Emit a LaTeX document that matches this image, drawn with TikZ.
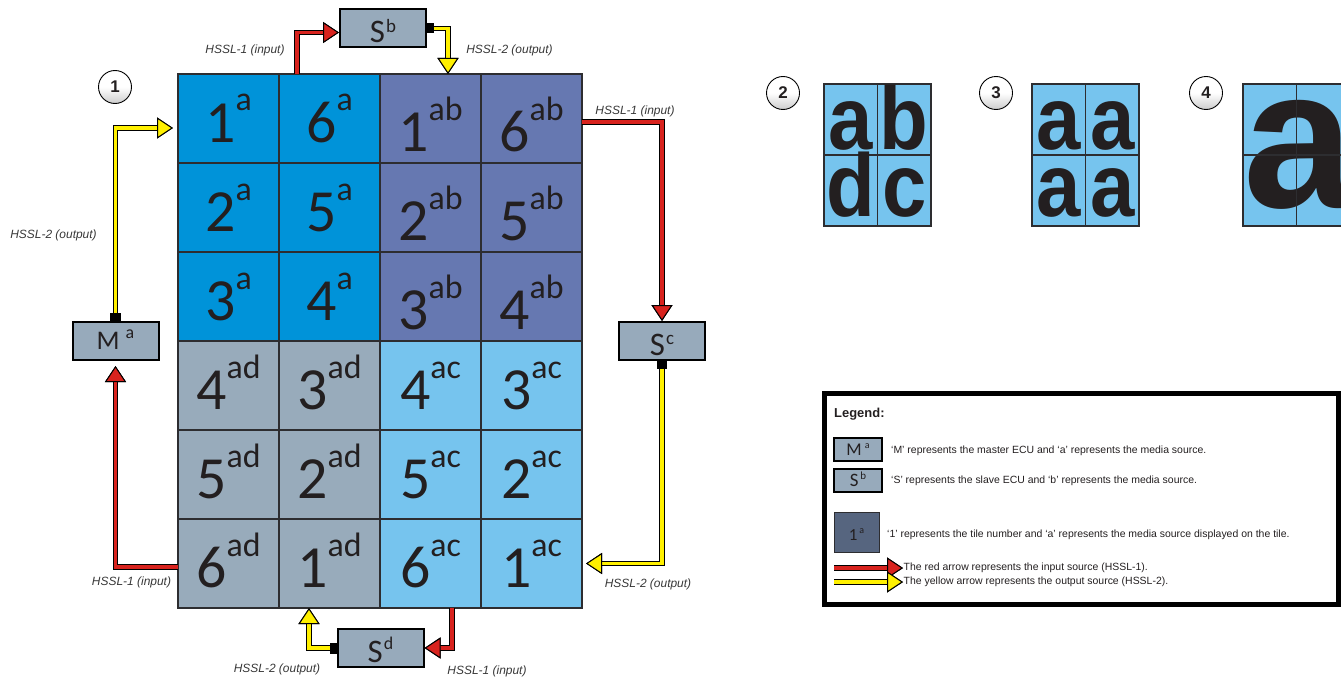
\documentclass[tikz,border=0pt]{standalone}
\usepackage{fontspec}
\setmainfont{Liberation Sans}
\newfontfamily\calfont{Carlito}
\usetikzlibrary{arrows.meta,calc}

% palette
\definecolor{tileA}{RGB}{0,147,217}
\definecolor{tileAB}{RGB}{102,120,177}
\definecolor{tileAD}{RGB}{152,171,187}
\definecolor{tileAC}{RGB}{118,196,238}
\definecolor{ecufill}{RGB}{151,170,187}
\definecolor{legtile}{RGB}{86,101,127}
\definecolor{hsred}{RGB}{216,35,30}
\definecolor{hsyellow}{RGB}{255,240,0}
\definecolor{ink}{RGB}{35,31,32}
\definecolor{gridline}{RGB}{45,45,48}
\definecolor{labelgray}{RGB}{55,55,55}

% tile number with media-source superscript
\newcommand\tiletext[2]{{\calfont\fontsize{60}{60}\selectfont #1\raisebox{31bp}{\fontsize{34}{34}\selectfont #2}}}
% ECU label: letter, superscript, size, superscript size, raise, gap
\newcommand\ecutext[6]{{\calfont\fontsize{#3}{#3}\selectfont #1\hspace{#6}\raisebox{#5}{\fontsize{#4}{#4}\selectfont #2}}}
% bold letter for the layout previews
\newcommand\bigletter[1]{\scalebox{0.93}[1.04]{#1}}

\tikzset{
  redtip/.tip={Triangle[length=16bp,width=21bp,line width=1bp,color=black,fill=hsred]},
  yellowtip/.tip={Triangle[length=16bp,width=21bp,line width=1bp,color=black,fill=hsyellow]},
  redlink/.style={draw=hsred, line width=3.6bp, -{redtip},
    preaction={draw=black, line width=5.2bp, -{redtip}}},
  yellowlink/.style={draw=hsyellow, line width=3.6bp, -{yellowtip},
    preaction={draw=black, line width=5.2bp, -{yellowtip}}},
  tile/.style={draw=gridline, line width=1.3bp, fill=#1, minimum width=101bp,
    minimum height=89bp, inner sep=0pt, outer sep=0pt, text=ink},
  baseA/.style={text height=68bp, text depth=21bp},
  baseB/.style={text height=77bp, text depth=12bp},
  cell/.style={draw=gridline, line width=1.1bp, fill=tileAC, minimum width=53.5bp,
    minimum height=71bp, inner sep=0pt, outer sep=0pt, text=ink,
    font=\bfseries\fontsize{86}{86}\selectfont},
  rowA/.style={text height=65bp, text depth=6bp},
  rowB/.style={text height=61bp, text depth=10bp},
  ecu/.style={draw=black, line width=2bp, fill=ecufill, minimum width=86bp,
    minimum height=38bp, inner sep=0pt, text=ink, text height=33bp, text depth=5bp},
  port/.style={fill=black, inner sep=0pt, outer sep=0pt},
  hssl/.style={font=\itshape\fontsize{12}{12}\selectfont, text=labelgray, inner sep=0pt},
  circ/.style={circle, draw=black, line width=0.9bp, minimum size=33bp, inner sep=0pt,
    top color=white, bottom color=black!20, middle color=white, text=ink,
    font=\bfseries\fontsize{17}{17}\selectfont},
  legtext/.style={font=\fontsize{10.5}{10.5}\selectfont, text=ink, inner sep=1bp, anchor=west},
}

\begin{document}
\begin{tikzpicture}[x=1bp,y=-1bp]
\useasboundingbox (0,0) rectangle (1341,683);

% ---- tiled video wall ----
\foreach \r/\na/\nb in {1/1/6,2/2/5,3/3/4}{
  \pgfmathsetmacro\yc{74+89*(\r-1)+44.5}
  \node[tile=tileA, baseA] (t\r1) at (228.5,\yc) {\tiletext{\na}{a}};
  \node[tile=tileA, baseA] (t\r2) at (329.5,\yc) {\tiletext{\nb}{a}};
  \node[tile=tileAB, baseB] (t\r3) at (430.5,\yc) {\tiletext{\na}{ab}};
  \node[tile=tileAB, baseB] (t\r4) at (531.5,\yc) {\tiletext{\nb}{ab}};
}
\foreach \r/\na/\nb in {4/4/3,5/5/2,6/6/1}{
  \pgfmathsetmacro\yc{74+89*(\r-1)+44.5}
  \node[tile=tileAD, baseA] (t\r1) at (228.5,\yc) {\tiletext{\na}{ad}};
  \node[tile=tileAD, baseA] (t\r2) at (329.5,\yc) {\tiletext{\nb}{ad}};
  \node[tile=tileAC, baseA] (t\r3) at (430.5,\yc) {\tiletext{\na}{ac}};
  \node[tile=tileAC, baseA] (t\r4) at (531.5,\yc) {\tiletext{\nb}{ac}};
}

% ---- ECUs and their HSSL ports ----
\node[ecu] (Sb) at (383,28.5) {\ecutext{S}{b}{33}{19}{10bp}{1bp}};
\node[ecu, text height=27bp, text depth=11bp] (Ma) at (115.5,341) {\ecutext{M}{a}{27}{18}{11bp}{6bp}};
\node[ecu] (Sc) at (662,341) {\ecutext{S}{c}{33}{19}{11bp}{1bp}};
\node[ecu] (Sd) at (380.5,648) {\ecutext{S}{d}{33}{18}{13bp}{1bp}};

\node[port, minimum width=7bp, minimum height=10bp, anchor=west] (pSb) at (Sb.east) {};
\node[port, minimum width=11bp, minimum height=8bp, anchor=south] (pMa) at (Ma.north) {};
\node[port, minimum width=10bp, minimum height=8bp, anchor=north] (pSc) at (Sc.south) {};
\node[port, minimum width=7bp, minimum height=11bp, anchor=east] (pSd) at (Sd.west) {};

% ---- HSSL links ----
\draw[redlink] ([xshift=18bp]t12.north west) |- ([yshift=-4bp]Sb.west);
\draw[yellowlink] (pSb.east) -| ([xshift=68bp]t13.north west);
\draw[yellowlink] (pMa.north) |- ([xshift=-5bp,yshift=-9.5bp]t11.west);
\draw[redlink] ([yshift=-3.5bp]t61.west) -| ([yshift=-5bp]Ma.south);
\draw[redlink] ([yshift=-3.5bp]t14.east) -| (Sc.north);
\draw[yellowlink] (pSc.south) |- ([xshift=4bp]t64.east);
\draw[redlink] ([xshift=72bp]t63.south west) |- (Sd.east);
\draw[yellowlink] (pSd.west) -| ([xshift=30bp]t62.south west);

% ---- link labels ----
\node[hssl] (h1) at (245,50) {HSSL-1 (input)};
\node[hssl] (h2) at (509.5,50) {HSSL-2 (output)};
\node[hssl] (h3) at (53.5,235) {HSSL-2 (output)};
\node[hssl] (h4) at (131.5,582) {HSSL-1 (input)};
\node[hssl] (h5) at (635,111) {HSSL-1 (input)};
\node[hssl] (h6) at (648,584) {HSSL-2 (output)};
\node[hssl] (h7) at (277,669) {HSSL-2 (output)};
\node[hssl] (h8) at (487,671) {HSSL-1 (input)};

% ---- numbered markers ----
\node[circ] (c1) at (115,87) {1};
\node[circ] (c2) at (783,93) {2};
\node[circ] (c3) at (996,93) {3};
\node[circ] (c4) at (1206,93) {4};

% ---- layout 2: four sources ----
\node[cell, rowA] (g2a) at (850.75,119.5) {\bigletter{a}};
\node[cell, rowA] (g2b) at (904.25,119.5) {\bigletter{b}};
\node[cell, rowB] (g2d) at (850.75,190.5) {\bigletter{d}};
\node[cell, rowB] (g2c) at (904.25,190.5) {\bigletter{c}};

% ---- layout 3: one source on every tile ----
\node[cell, rowA] (g3a) at (1058.75,119.5) {\bigletter{a}};
\node[cell, rowA] (g3b) at (1112.25,119.5) {\bigletter{a}};
\node[cell, rowB] (g3c) at (1058.75,190.5) {\bigletter{a}};
\node[cell, rowB] (g3d) at (1112.25,190.5) {\bigletter{a}};

% ---- layout 4: one source across the wall ----
\begin{scope}
\clip (0,0) rectangle (1341,683);
\node[cell] (g4a) at (1269.75,119.5) {};
\node[cell] (g4b) at (1323.25,119.5) {};
\node[cell] (g4c) at (1269.75,190.5) {};
\node[cell] (g4d) at (1323.25,190.5) {};
\node[anchor=base west, inner sep=0pt, text=ink,
  font=\bfseries\fontsize{200}{200}\selectfont] (biga) at (1243,207) {a};
\foreach \c in {g4a,g4b,g4c,g4d}
  \draw[gridline, line width=1.1bp] (\c.north west) rectangle (\c.south east);
\end{scope}

% ---- legend ----
\node[draw=black, line width=5bp, minimum width=514bp, minimum height=211bp,
  inner sep=0pt] (legend) at (1081,498.5) {};
\node[anchor=west, inner sep=0pt, text=ink, font=\bfseries\fontsize{13}{13}\selectfont]
  (lgTitle) at (834,414) {Legend:};
\node[ecu, minimum width=48bp, minimum height=23bp, text height=17bp, text depth=6bp]
  (lgM) at (858,449.5) {\ecutext{M}{a}{18}{10}{7bp}{3bp}};
\node[ecu, minimum width=48bp, minimum height=23bp, text height=17bp, text depth=6bp]
  (lgS) at (858,480.5) {\ecutext{S}{b}{19}{11}{7bp}{2bp}};
\node[draw=gridline, line width=0.8bp, fill=legtile, minimum width=45bp, minimum height=40bp,
  inner sep=0pt, text=ink, text height=28bp, text depth=12bp]
  (lgT) at (856.5,532) {\ecutext{1}{a}{17}{10}{7bp}{2bp}};
\node[legtext] (lgMt) at (890,451) {‘M’ represents the master ECU and ‘a’ represents the media source.};
\node[legtext] (lgSt) at (890,481) {‘S’ represents the slave ECU and ‘b’ represents the media source.};
\node[legtext] (lgTt) at (886,535) {‘1’ represents the tile number and ‘a’ represents the media source displayed on the tile.};
\node[legtext, inner sep=0.5bp] (lgRed) at (903,568) {The red arrow represents the input source (HSSL-1).};
\node[legtext, inner sep=0.5bp] (lgYel) at (903,582) {The yellow arrow represents the output source (HSSL-2).};
\coordinate (lrS) at (834,568);
\coordinate (lyS) at (834,582);
\draw[redlink] (lrS) -- (lgRed.west);
\draw[yellowlink] (lyS) -- (lgYel.west);
\end{tikzpicture}
\end{document}
